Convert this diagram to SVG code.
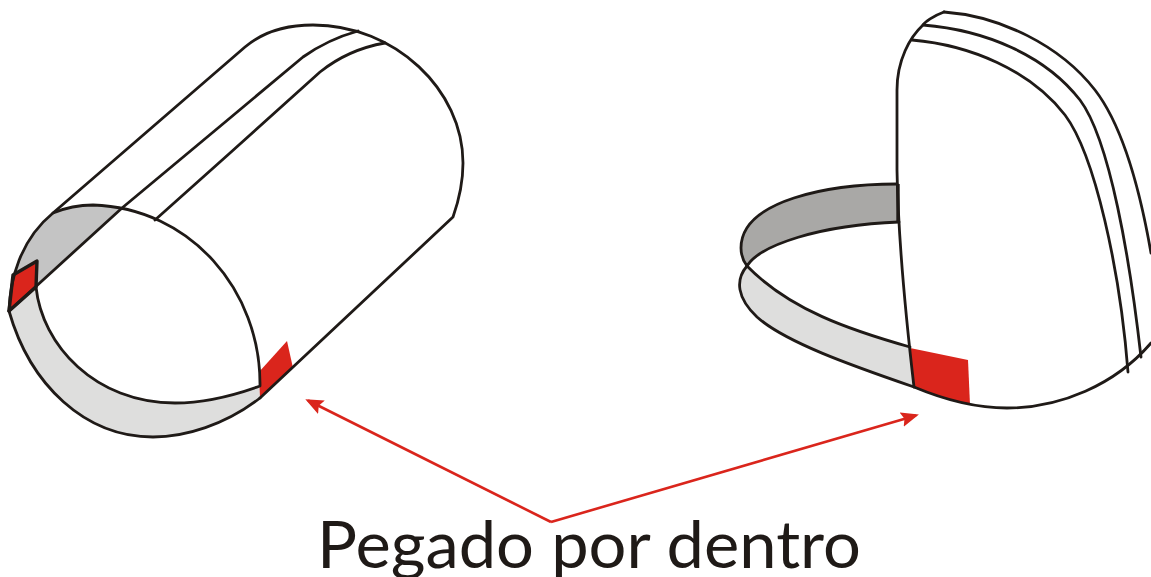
<svg xmlns="http://www.w3.org/2000/svg" width="1151" height="577" viewBox="0 0 1151 577">
<style>
.l{fill:none;stroke:#1f1a17;stroke-width:2.8;stroke-linejoin:round;stroke-linecap:round}
.r{fill:#da251c}
.g1{fill:#c4c4c4}.g2{fill:#dededd}.g3{fill:#a9a8a6}
.a{fill:none;stroke:#da251c;stroke-width:2.6}
text{font-family:Lato,"Liberation Sans",Arial,sans-serif;font-weight:400;font-size:65px;fill:#1f1a17}
</style>
<defs><marker id="h" markerUnits="userSpaceOnUse" markerWidth="20" markerHeight="16" refX="15" refY="7.5" orient="auto"><path d="M0 0L18 7.5L0 15L3 7.5Z" fill="#da251c"/></marker></defs>
<rect width="1151" height="577" fill="#fff"/>
<g id="cylinder">
<path class="g1" d="M9 311C10 280 20 240 53 213C65 208 80 205 93 205C105 205 113 206 122 208L9 311Z"/>
<path class="g2" d="M9 311L36 287C42 345 95 403 175 403C205 403 235 395 260 386V398C225 425 185 437 153 437C85 437 30 385 9 311Z"/>
<path class="r" d="M259 372L287 341L293 368L260 398Z"/>
<path class="r" d="M13 275L37 261L36 287L9 311Z"/>
<path class="l" d="M9 311C10 280 20 240 53 213L245 47C265 30 290 25 313 25C395 25 463 90 463 163C463 180 459 200 453 217L260 398"/>
<path class="l" d="M9 311C30 385 85 437 153 437C185 437 225 425 260 398"/>
<path class="l" d="M36 287C42 345 95 403 175 403C205 403 235 395 260 386C261 290 190 208 93 205C80 205 65 208 53 213"/>
<path class="l" d="M9 311L122 208L230 118L303 57C320 45 340 36 358 31"/>
<path class="l" d="M155 220L230 153L320 72C340 56 362 47 385 43"/>
<path class="l" style="stroke-width:3.4" d="M13 275L37 261L36 287L9 311Z"/>
</g>
<g id="shell">
<path class="g3" d="M898 184C830 184 741 200 741 248C741 255 744 262 747 266C760 245 820 225 898 222Z"/>
<path class="g2" d="M747 266C790 310 850 330 910 347L914 387C850 365 785 342 757 317C737 298 735 280 747 266Z"/>
<path class="r" d="M910 348L968 360L970 405C950 400 930 394 914 388Z"/>
<path class="l" d="M897 184C830 184 741 200 741 248C741 255 744 262 747 266C760 245 820 225 899 222"/>
<path class="l" d="M747 266C790 310 850 330 910 347"/>
<path class="l" d="M747 266C735 280 737 298 757 317C785 342 850 365 914 387C945 400 975 408 1007 408C1060 408 1115 385 1151 343"/>
<path class="l" d="M944 12C933 16 925 22 923 25C910 37 897 60 897 90V170C898 230 905 310 914 387"/>
<path class="l" d="M944 12C1000 16 1060 45 1095 90C1122 125 1140 190 1151 253"/>
<path class="l" d="M923 25C985 30 1045 55 1080 100C1110 140 1130 260 1141 357"/>
<path class="l" d="M912 40C970 45 1030 70 1065 115C1095 155 1120 270 1128 372"/>
<path d="M898 184V222" fill="none" stroke="#1f1a17" stroke-width="3.4"/>
</g>
<g id="connectors">
<path class="a" d="M551 522L308 400.5" marker-end="url(#h)"/>
<path class="a" d="M551 522L916 415.4" marker-end="url(#h)"/>
</g>
<g id="label"><text x="317" y="568" textLength="544" lengthAdjust="spacingAndGlyphs">Pegado por dentro</text></g>
</svg>
